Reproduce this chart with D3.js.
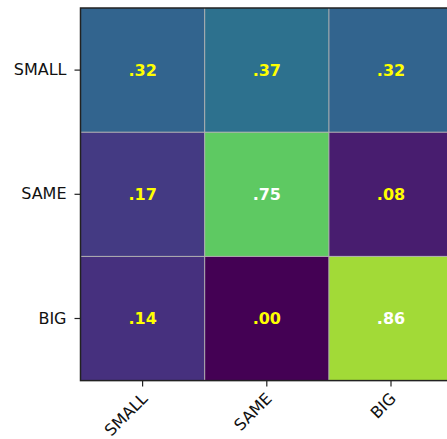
<!DOCTYPE html>
<html>
<head>
<meta charset="utf-8">
<script src="https://cdn.jsdelivr.net/npm/d3@7"></script>
<style>
  html, body { margin: 0; padding: 0; background: #fff; }
  svg { display: block; }
  text { font-family: "DejaVu Sans", sans-serif; }
</style>
</head>
<body>
<script>
// Confusion-style matrix: rows = actual class, columns = predicted class
const rowLabels = ["SMALL", "SAME", "BIG"];
const colLabels = ["SMALL", "SAME", "BIG"];
const values = [
  [0.32, 0.37, 0.32],
  [0.17, 0.75, 0.08],
  [0.14, 0.00, 0.86]
];

const W = 447, H = 439;
const margin = { left: 80.5, top: 8 };
const cell = 124.2;

const svg = d3.select("body").append("svg")
  .attr("width", W).attr("height", H);

const x = d3.scaleBand().domain(colLabels).range([margin.left, margin.left + cell * 3]);
const y = d3.scaleBand().domain(rowLabels).range([margin.top, margin.top + cell * 3]);
const color = d3.scaleSequential(d3.interpolateViridis).domain([0, 1]);
const fmt = v => d3.format(".2f")(v).replace(/^0/, "");

const cells = [];
values.forEach((row, i) => row.forEach((v, j) => cells.push({ r: rowLabels[i], c: colLabels[j], v })));

svg.append("g").selectAll("rect").data(cells).join("rect")
  .attr("x", d => x(d.c)).attr("y", d => y(d.r))
  .attr("width", x.bandwidth()).attr("height", y.bandwidth())
  .attr("fill", d => color(d.v));

// light grid between cells
const grid = svg.append("g").attr("stroke", "#b0b0b0").attr("stroke-width", 1);
[1, 2].forEach(k => {
  grid.append("line")
    .attr("x1", margin.left + cell * k).attr("x2", margin.left + cell * k)
    .attr("y1", margin.top).attr("y2", margin.top + cell * 3);
  grid.append("line")
    .attr("x1", margin.left).attr("x2", margin.left + cell * 3)
    .attr("y1", margin.top + cell * k).attr("y2", margin.top + cell * k);
});

svg.append("g").selectAll("text").data(cells).join("text")
  .attr("x", d => x(d.c) + x.bandwidth() / 2)
  .attr("y", d => y(d.r) + y.bandwidth() / 2)
  .attr("text-anchor", "middle").attr("dy", "0.36em")
  .attr("font-size", 16).attr("font-weight", "bold")
  .attr("fill", d => d.v < 0.5 ? "#ffff00" : "#ffffff")
  .text(d => fmt(d.v));

// frame
svg.append("rect")
  .attr("x", margin.left).attr("y", margin.top)
  .attr("width", cell * 3).attr("height", cell * 3)
  .attr("fill", "none").attr("stroke", "#222").attr("stroke-width", 1.5);

// axes
const yAxis = svg.append("g")
  .attr("transform", `translate(${margin.left},0)`)
  .call(d3.axisLeft(y).tickSize(6).tickPadding(8));
const xAxis = svg.append("g")
  .attr("transform", `translate(0,${margin.top + cell * 3})`)
  .call(d3.axisBottom(x).tickSize(6).tickPadding(5));

[yAxis, xAxis].forEach(g => {
  g.select(".domain").remove();
  g.selectAll(".tick line").attr("stroke", "#222").attr("stroke-width", 1.2);
  g.selectAll(".tick text").attr("font-size", 16).attr("fill", "#111")
    .attr("font-family", "DejaVu Sans, sans-serif");
});

xAxis.selectAll(".tick text")
  .attr("text-anchor", "end")
  .attr("dy", 0).attr("y", 0)
  .attr("transform", "translate(6,19) rotate(-45)");
</script>
</body>
</html>
